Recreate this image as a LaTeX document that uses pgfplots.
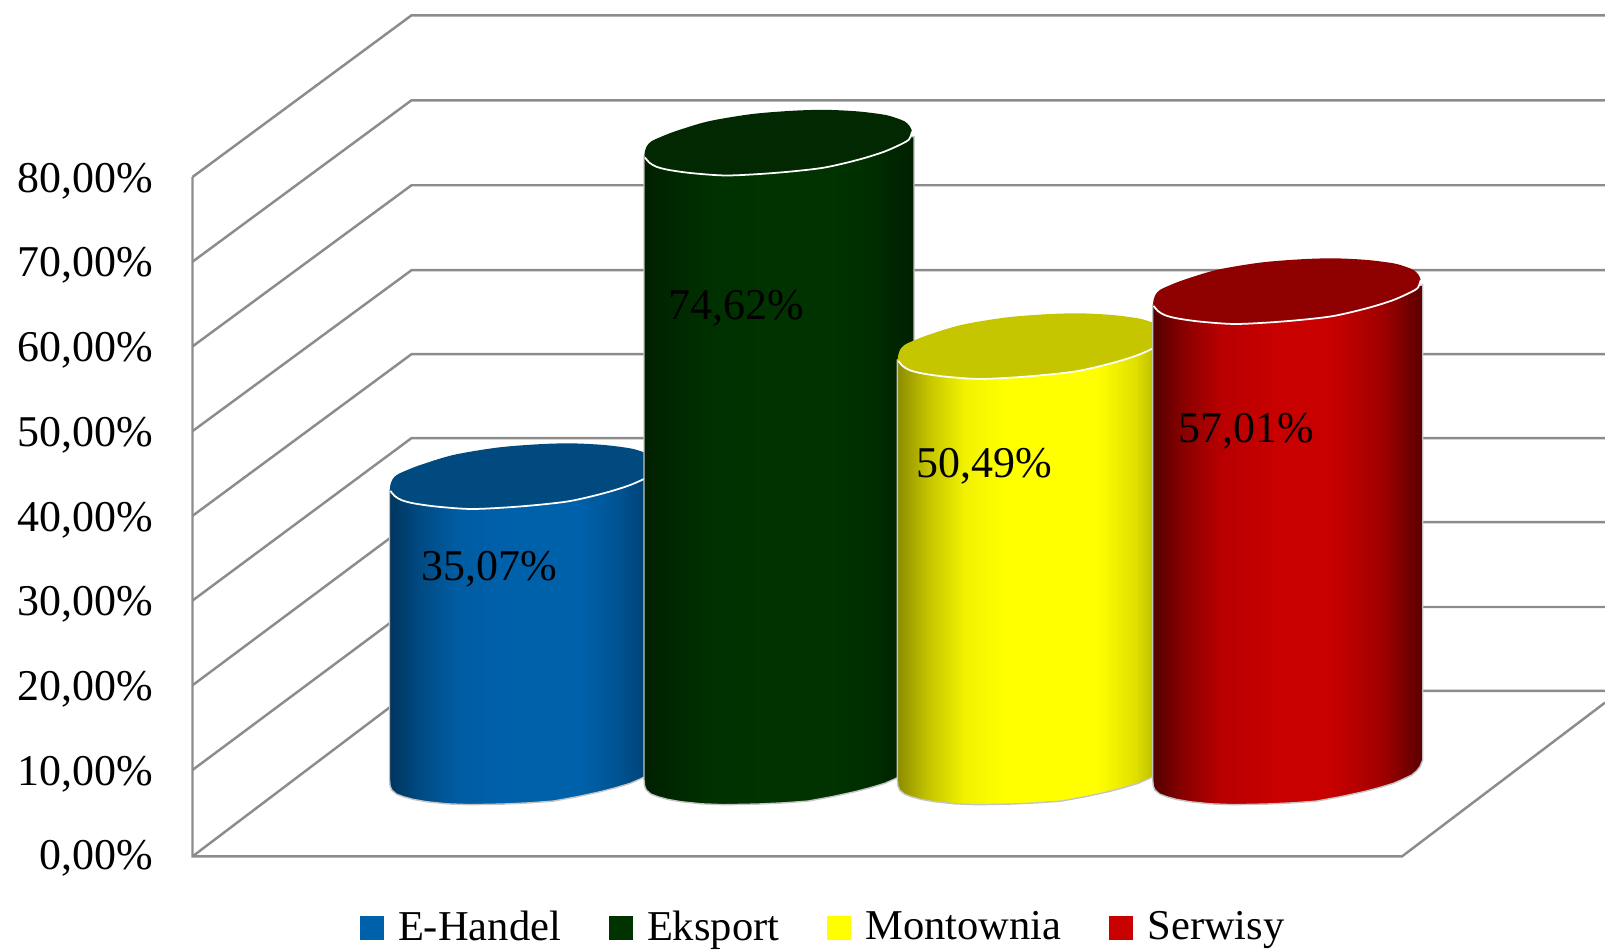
\documentclass[border=0pt]{standalone}
\usepackage{fontspec}
\setmainfont{Liberation Serif}
\usepackage{pgfplots}
\usepackage{pgfplotstable}
\pgfplotsset{compat=1.18}

\definecolor{gridc}{HTML}{8C8C8C}
\definecolor{edgec}{HTML}{C4C4C4}
\definecolor{cb}{HTML}{0061AB}
\definecolor{cg}{HTML}{003300}
\definecolor{cy}{HTML}{FFFF00}
\definecolor{cr}{HTML}{C80000}
\definecolor{tb}{HTML}{004A7F}
\definecolor{tg}{HTML}{022802}
\definecolor{ty}{HTML}{C6C600}
\definecolor{tr}{HTML}{8F0000}

\pgfdeclarehorizontalshading{cylb}{100bp}{color(0bp)=(cb!55!black); color(25bp)=(cb!55!black); color(31bp)=(cb!78!black); color(37.5bp)=(cb!95!black); color(47.5bp)=(cb); color(60bp)=(cb); color(67.5bp)=(cb!85!black); color(75bp)=(cb!60!black); color(100bp)=(cb!60!black)}
\pgfdeclarehorizontalshading{cylg}{100bp}{color(0bp)=(cg!62!black); color(25bp)=(cg!62!black); color(31bp)=(cg!80!black); color(37.5bp)=(cg!95!black); color(47.5bp)=(cg); color(60bp)=(cg); color(67.5bp)=(cg!88!black); color(75bp)=(cg!62!black); color(100bp)=(cg!62!black)}
\pgfdeclarehorizontalshading{cyly}{100bp}{color(0bp)=(cy!55!black); color(25bp)=(cy!55!black); color(31bp)=(cy!78!black); color(37.5bp)=(cy!95!black); color(45bp)=(cy); color(62bp)=(cy); color(69bp)=(cy!88!black); color(75bp)=(cy!65!black); color(100bp)=(cy!65!black)}
\pgfdeclarehorizontalshading{cylr}{100bp}{color(0bp)=(cr!42!black); color(25bp)=(cr!42!black); color(31bp)=(cr!70!black); color(37.5bp)=(cr!92!black); color(48bp)=(cr); color(58bp)=(cr); color(67.5bp)=(cr!80!black); color(75bp)=(cr!45!black); color(100bp)=(cr!45!black)}

% x in px from the cylinder's left side, dy in % above the lowest point of the arc, h=1 moves with the value
\pgfplotstableread{
dx dy h
0 2.24 1
0 2.91 0
0.6 2.2 0
2.3 1.73 0
7 1.25 0
14 0.94 0
24 0.62 0
37.3 0.35 0
58 0.1 0
80.7 0 0
114 0.08 0
140 0.22 0
164 0.43 0
188 0.95 0
210.7 1.53 0
226 2 0
240.7 2.52 0
250 3 0
259 3.5 0
264 4 0
267.3 4.49 0
270 5.27 0
270 4.6 1
}\bodytable

\pgfplotstableread{
dx dy h
0.4 2.4 1
1 2.9 1
3 3.5 1
7 4 1
14 4.41 1
30.7 5.19 1
64 6.38 1
107.3 7.24 1
147.3 7.63 1
180.7 7.75 1
214 7.56 1
240.7 7.16 1
253 6.75 1
260.7 6.38 1
265.5 5.85 1
268 5.19 1
266.5 4.6 1
262.3 4.01 1
240.7 2.83 1
214 1.85 1
180.7 0.94 1
147.3 0.47 1
114 0.16 1
80.7 0 1
47.3 0.28 1
24 0.67 1
12 1.05 1
5 1.55 1
1 2.13 1
}\toptable

\pgfplotstableread{
dx dy h
268 5.19 1
266.5 4.6 1
262.3 4.01 1
240.7 2.83 1
214 1.85 1
180.7 0.94 1
147.3 0.47 1
114 0.16 1
80.7 0 1
47.3 0.28 1
24 0.67 1
12 1.05 1
5 1.55 1
1 2.13 1
}\arctable

% #1 left x, #2 value, #3 shading, #4 colour of the top
\newcommand\cyl[4]{%
  \addplot[forget plot,shade,shading=#3,draw=edgec,line width=.4pt]
    table[x expr=\thisrow{dx}+#1,y expr=\thisrow{dy}+5.9+\thisrow{h}*0.9955*#2] {\bodytable} -- cycle;
  \addplot[forget plot,fill=#4,draw=none,smooth,tension=.5]
    table[x expr=\thisrow{dx}+#1,y expr=\thisrow{dy}+5.9+\thisrow{h}*0.9955*#2] {\toptable} -- cycle;
  \addplot[forget plot,white,line width=.5pt,smooth,tension=.5]
    table[x expr=\thisrow{dx}+#1,y expr=\thisrow{dy}+5.9+\thisrow{h}*0.9955*#2] {\arctable};
}

\begin{document}
\begin{tikzpicture}
\begin{axis}[scale only axis,width=16.05cm,height=9.5cm,
  xmin=0,xmax=1605,ymin=-11.25,ymax=100.9,
  axis line style={draw=none},tick style={draw=none},major tick length=0pt,
  xtick=\empty,ytick={0,10,...,80},
  yticklabels={{0,00\%},{10,00\%},{20,00\%},{30,00\%},{40,00\%},{50,00\%},{60,00\%},{70,00\%},{80,00\%}},
  yticklabel style={anchor=east,xshift=1.54cm,yshift=-0.04cm,inner sep=0pt,font=\fontsize{12.5}{14}\selectfont},
  legend columns=4,
  legend style={draw=none,fill=none,at={(rel axis cs:0.5145,0.023)},anchor=center,
    inner ysep=0pt,nodes={inner ysep=0pt},
    font=\fontsize{12.1}{14}\selectfont,
    /tikz/every odd column/.append style={column sep=0.07cm},
    /tikz/every even column/.append style={column sep=0.41cm}},
  legend image code/.code={\path[#1,draw=none] (0cm,-0.12cm) rectangle (0.24cm,0.12cm);}]

% walls and floor
\addplot[forget plot,gridc,line width=.7pt] coordinates {(192.5,80)(192.5,-0.2)(1402,-0.2)(1605,17.95)};
\addplot[forget plot,gridc,line width=.7pt] coordinates {(192.5,-0.2)(411.5,19.34)(1605,19.34)};
\addplot[forget plot,gridc,line width=.7pt] coordinates {(192.5,10)(411.5,29.24)(1605,29.24)};
\addplot[forget plot,gridc,line width=.7pt] coordinates {(192.5,20)(411.5,39.27)(1605,39.27)};
\addplot[forget plot,gridc,line width=.7pt] coordinates {(192.5,30)(411.5,49.18)(1605,49.18)};
\addplot[forget plot,gridc,line width=.7pt] coordinates {(192.5,40)(411.5,59.09)(1605,59.09)};
\addplot[forget plot,gridc,line width=.7pt] coordinates {(192.5,50)(411.5,69)(1605,69)};
\addplot[forget plot,gridc,line width=.7pt] coordinates {(192.5,60)(411.5,79.03)(1605,79.03)};
\addplot[forget plot,gridc,line width=.7pt] coordinates {(192.5,70)(411.5,89.06)(1605,89.06)};
\addplot[forget plot,gridc,line width=.7pt] coordinates {(192.5,80)(411.5,99.09)(1605,99.09)};

\cyl{389.5}{35.07}{cylb}{tb}
\cyl{644}{74.62}{cylg}{tg}
\cyl{897.4}{50.49}{cyly}{ty}
\cyl{1152.7}{57.01}{cylr}{tr}

\addplot[forget plot,draw=none,no markers,point meta=explicit symbolic,nodes near coords,
  every node near coord/.append style={anchor=center,inner sep=0pt,font=\fontsize{12.5}{14}\selectfont,text=black}]
  coordinates {(489,33.7)[35,07\%] (736,64.5)[74,62\%] (984,45.9)[50,49\%] (1246,50)[57,01\%]};

\addlegendimage{fill=cb}\addlegendentry{E-Handel}
\addlegendimage{fill=cg}\addlegendentry{Eksport}
\addlegendimage{fill=cy}\addlegendentry{Montownia}
\addlegendimage{fill=cr}\addlegendentry{Serwisy}
\end{axis}
\end{tikzpicture}
\end{document}
